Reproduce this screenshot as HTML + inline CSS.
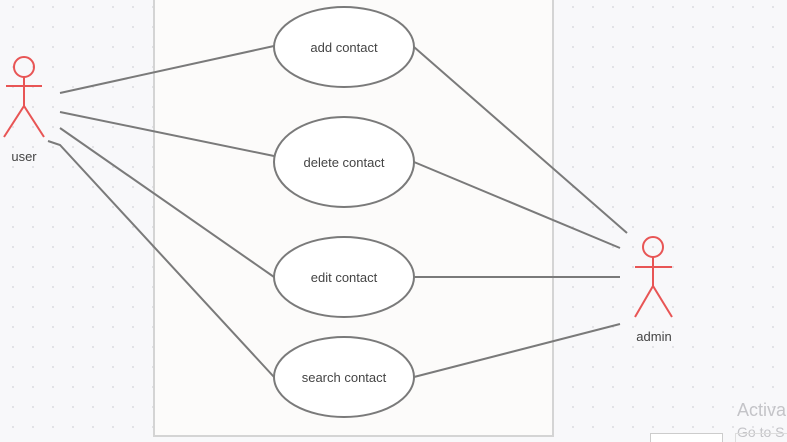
<!DOCTYPE html>
<html><head><style>
html,body{margin:0;padding:0;width:787px;height:442px;overflow:hidden;background:#f8f8fa;}
svg{display:block;font-family:"Liberation Sans",sans-serif;}
</style></head><body>
<svg width="787" height="442" viewBox="0 0 787 442">
<defs><pattern id="d" x="12" y="6" width="20" height="20" patternUnits="userSpaceOnUse"><circle cx="1" cy="1" r="1" fill="#dcdce0"/></pattern></defs>
<rect width="787" height="442" fill="#f8f8fa"/>
<rect width="787" height="442" fill="url(#d)"/>
<rect x="154" y="-5" width="399" height="441" fill="#fcfbfa" stroke="#d4d4d4" stroke-width="2"/>
<g stroke="#7a7a7a" stroke-width="2" fill="none">
<line x1="60" y1="93" x2="274" y2="46"/>
<line x1="60" y1="112" x2="274" y2="156"/>
<line x1="60" y1="128" x2="274" y2="277"/>
<polyline points="48,141 60,145 274,377"/>
<line x1="414" y1="47" x2="627" y2="233"/>
<line x1="414" y1="162" x2="620" y2="248"/>
<line x1="414" y1="277" x2="620" y2="277"/>
<line x1="414" y1="377" x2="620" y2="324"/>
</g>
<g stroke="#7a7a7a" stroke-width="2" fill="#fff">
<ellipse cx="344" cy="47" rx="70" ry="40"/>
<ellipse cx="344" cy="162" rx="70" ry="45"/>
<ellipse cx="344" cy="277" rx="70" ry="40"/>
<ellipse cx="344" cy="377" rx="70" ry="40"/>
</g>
<g font-size="13" fill="#444" text-anchor="middle">
<text x="344" y="52">add contact</text>
<text x="344" y="167">delete contact</text>
<text x="344" y="282">edit contact</text>
<text x="344" y="382">search contact</text>
<text x="24" y="161">user</text>
<text x="654" y="341">admin</text>
</g>
<g stroke="#e85555" stroke-width="2" fill="none">
<circle cx="24" cy="67" r="10"/>
<line x1="24" y1="77" x2="24" y2="106"/>
<line x1="6" y1="86" x2="42" y2="86"/>
<polyline points="4,137 24,106 44,137"/>
<circle cx="653" cy="247" r="10"/>
<line x1="653" y1="257" x2="653" y2="286"/>
<line x1="635" y1="267" x2="672" y2="267"/>
<polyline points="635,317 653,286 672,317"/>
</g>
<text x="737" y="416" font-size="18" fill="#c4c4c8">Activa</text>
<text x="737" y="437" font-size="14" fill="#c4c4c8">Go to S</text>
<rect x="650.5" y="433.5" width="72" height="12" fill="#fff" stroke="#ccc"/>
<rect x="735.5" y="433.5" width="60" height="12" fill="none" stroke="#ddd"/>
</svg>
</body></html>
